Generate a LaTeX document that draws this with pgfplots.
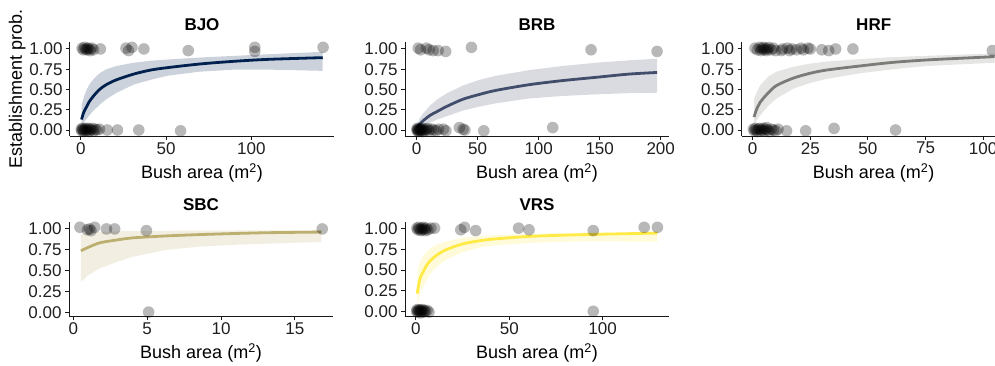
\documentclass[border=0pt]{standalone}
\usepackage{fontspec}
\setmainfont{Liberation Sans}
\usepackage{pgfplots}
\pgfplotsset{compat=1.18}
\definecolor{cBJO}{HTML}{00204D}
\definecolor{cBRB}{HTML}{414D6B}
\definecolor{cHRF}{HTML}{7C7B78}
\definecolor{cSBC}{HTML}{BCAF6F}
\definecolor{cVRS}{HTML}{FFEA46}
\pgfplotsset{
  panel/.style={
    scale only axis, width=264pt, height=94pt, anchor=south west,
    axis x line*=bottom, axis y line*=left,
    axis line style={-, black!90, line width=1pt},
    tick style={black!90, line width=1pt},
    tick align=outside, major tick length=4pt,
    ytick={0,0.25,0.5,0.75,1},
    yticklabel={\pgfmathprintnumber[fixed,fixed zerofill,precision=2]{\tick}},
    /pgf/number format/assume math mode=true,
    scaled x ticks=false,
    ticklabel style={font=\fontsize{17}{20}\selectfont, text=black!88},
    xticklabel style={inner sep=2pt},
    xlabel={Bush area (m\textsuperscript{2})},
    xlabel style={font=\fontsize{18}{21}\selectfont, at={(axis description cs:0.5,0)}, anchor=center, yshift=-37pt},
    title style={font=\bfseries\fontsize{17}{20}\selectfont, at={(axis description cs:0.5,1)}, anchor=south, yshift=2pt},
    clip=false,
  },
  pts/.style={only marks, mark=*, mark size=5.8pt, mark options={fill=black, fill opacity=0.28, draw opacity=0}},
  band/.style={fill=#1, fill opacity=0.2, draw=none},
  fit/.style={no marks, smooth, line width=2.8pt, color=#1},
}
\begin{document}
\begin{tikzpicture}
\path[use as bounding box] (0pt,0pt) rectangle (995pt,365pt);
% ---------------- BJO
\begin{axis}[panel, at={(70pt,229pt)}, title={BJO}, xmin=-6.3, xmax=148.4, ymin=-0.074, ymax=1.086, xtick={0,50,100},
  ylabel={Establishment prob.}, ylabel style={font=\fontsize{18}{21}\selectfont, at={(axis description cs:-0.2,0.5)}, anchor=center}]
\addplot[band=cBJO] coordinates {(0.5,0.30)(1,0.34)(2,0.42)(3.5,0.50)(5,0.56)(7.5,0.63)(11,0.70)(15,0.75)(21,0.79)(31,0.83)(41,0.855)(51,0.87)(70,0.895)(90,0.915)(110,0.935)(141.8,0.965)
 (141.8,0.73)(110,0.745)(90,0.745)(70,0.72)(51,0.67)(41,0.62)(31,0.56)(21,0.46)(15,0.38)(11,0.31)(7.5,0.24)(5,0.18)(3.5,0.14)(2,0.10)(1,0.07)(0.5,0.05)} -- cycle;
\addplot[fit=cBJO] coordinates {(0.5,0.13)(1,0.17)(2,0.23)(3.5,0.29)(5,0.35)(7.5,0.42)(11,0.50)(15,0.56)(21,0.62)(31,0.69)(41,0.74)(51,0.77)(70,0.815)(90,0.848)(110,0.872)(141.8,0.893)};
\addplot[pts] coordinates {(0.8,1.01)(1.5,0.99)(2.2,1.02)(3.0,1.00)(3.5,0.99)(4.2,1.01)(4.8,1.00)(5.5,0.98)(6.5,1.01)(7.5,0.99)(11.5,1.00)(26.5,1.01)(28,0.98)(30,1.02)(37,1.00)(63,0.98)(102,1.02)(102,0.97)(142,1.02)
 (0.3,0.01)(0.6,-0.01)(1,0.02)(1.3,0.00)(1.8,-0.02)(2.2,0.01)(2.8,0.02)(3.2,-0.01)(3.8,0.00)(4.3,0.02)(4.8,-0.02)(5.3,0.01)(6,0.00)(6.8,0.02)(7.5,-0.01)(8.5,0.01)(9.5,0.00)(11,0.01)(15.5,0.00)(21.5,0.00)(34,0.00)(58.5,-0.01)};
\end{axis}
% ---------------- BRB
\begin{axis}[panel, at={(405pt,229pt)}, title={BRB}, xmin=-9.55, xmax=206.8, ymin=-0.074, ymax=1.086, xtick={0,50,100,150,200}]
\addplot[band=cBRB] coordinates {(0.3,0.07)(2,0.13)(5,0.20)(10.9,0.30)(17,0.38)(24.5,0.45)(38,0.55)(51.7,0.62)(65.3,0.67)(92.5,0.74)(119.7,0.79)(146.9,0.83)(174,0.86)(197,0.88)
 (197,0.46)(174,0.455)(146.9,0.44)(119.7,0.42)(92.5,0.39)(65.3,0.33)(51.7,0.29)(38,0.24)(24.5,0.17)(17,0.13)(10.9,0.09)(5,0.05)(2,0.02)(0.3,0.01)} -- cycle;
\addplot[fit=cBRB] coordinates {(0.3,0.03)(2,0.06)(5,0.11)(10.9,0.18)(17,0.23)(24.5,0.29)(38,0.38)(51.7,0.44)(65.3,0.49)(92.5,0.56)(119.7,0.61)(146.9,0.65)(174,0.69)(197,0.71)};
\addplot[pts] coordinates {(1.3,1.01)(3.2,0.99)(8,1.01)(10.2,0.99)(13.5,0.98)(17.6,0.98)(23.8,0.97)(44.9,1.02)(142.9,0.99)(197,0.97)
 (0.2,0.00)(0.5,0.02)(0.8,-0.01)(1.2,0.01)(1.6,-0.02)(2,0.00)(2.5,0.02)(3,-0.01)(3.5,0.01)(4,0.00)(4.5,-0.02)(5,0.02)(6,0.00)(7,-0.01)(8,0.01)(9,0.02)(10,-0.01)(12,0.01)(14,0.00)(16,-0.01)(18,0.01)(22,0.01)(24,-0.01)(35,0.03)(38,0.01)(39.5,0.00)(55,-0.01)(111.5,0.03)};
\end{axis}
% ---------------- HRF
\begin{axis}[panel, at={(741.7pt,229pt)}, title={HRF}, xmin=-4.77, xmax=109.8, ymin=-0.074, ymax=1.086, xtick={0,25,50,75,100}]
\addplot[band=cHRF] coordinates {(0.6,0.38)(1.5,0.45)(3.2,0.55)(6.8,0.66)(10.4,0.72)(17.6,0.78)(24.9,0.82)(32.1,0.845)(46.5,0.875)(61,0.90)(75.4,0.915)(89.9,0.93)(105,0.945)
 (105,0.83)(89.9,0.81)(75.4,0.79)(61,0.75)(46.5,0.70)(32.1,0.63)(24.9,0.58)(17.6,0.51)(10.4,0.39)(6.8,0.30)(3.2,0.18)(1.5,0.11)(0.6,0.06)} -- cycle;
\addplot[fit=cHRF] coordinates {(0.6,0.16)(1.5,0.24)(3.2,0.34)(6.8,0.46)(10.4,0.55)(17.6,0.64)(24.9,0.70)(32.1,0.74)(46.5,0.79)(61,0.835)(75.4,0.864)(89.9,0.885)(105,0.905)};
\addplot[pts] coordinates {(1,1.01)(2,0.99)(3,1.02)(3.5,0.98)(4,1.00)(4.5,1.02)(5,0.99)(5.5,1.01)(6,0.98)(6.5,1.00)(7,1.02)(8,0.99)(9,1.01)(10,0.98)(12.5,0.98)(13,1.00)(15,1.01)(16,0.98)(17,1.00)(19,0.99)(21,1.01)(22,0.99)(24,1.01)(25,1.00)(30,0.99)(33,0.98)(36,1.00)(43.5,1.00)(104,0.98)
 (0.3,0.01)(0.7,-0.01)(1.1,0.02)(1.5,0.00)(2,-0.02)(2.5,0.01)(3,0.02)(3.5,-0.01)(4,0.00)(4.5,0.02)(5,-0.01)(5.5,0.01)(6,0.03)(6.5,0.00)(7,-0.02)(8,0.01)(9,0.00)(10,-0.01)(11,0.01)(14.7,-0.01)(23,-0.01)(35.3,0.02)(62,0.00)};
\end{axis}
% ---------------- SBC
\begin{axis}[panel, at={(69pt,48.7pt)}, title={SBC}, xmin=-0.29, xmax=17.58, ymin=-0.040, ymax=1.079, xtick={0,5,10,15}]
\addplot[band=cSBC] coordinates {(0.52,0.94)(1,0.955)(1.8,0.965)(3,0.972)(5,0.977)(8,0.98)(12,0.982)(16.8,0.985)
 (16.8,0.845)(13.1,0.825)(10.8,0.81)(8.6,0.79)(6.3,0.75)(4.06,0.67)(3,0.61)(1.8,0.53)(1,0.45)(0.52,0.37)} -- cycle;
\addplot[fit=cSBC] coordinates {(0.52,0.74)(1,0.78)(1.8,0.835)(3,0.87)(4.06,0.894)(6.3,0.917)(8.6,0.933)(10.8,0.945)(13.1,0.955)(16.8,0.963)};
\addplot[pts] coordinates {(0.45,1.02)(0.95,0.99)(1.1,1.00)(1.2,0.98)(1.45,1.02)(2.25,1.00)(2.8,1.00)(4.95,0.98)(16.85,1.00)(5.1,0.01)};
\end{axis}
% ---------------- VRS
\begin{axis}[panel, at={(405pt,48.7pt)}, title={VRS}, xmin=-5.87, xmax=135.6, ymin=-0.061, ymax=1.081, xtick={0,50,100}]
\addplot[band=cVRS] coordinates {(0.7,0.45)(1.5,0.55)(2.5,0.62)(3.9,0.67)(5.5,0.72)(7.5,0.76)(11,0.81)(16.4,0.85)(25.3,0.895)(35,0.915)(43.1,0.925)(60.9,0.94)(80,0.95)(96.5,0.955)(129.4,0.96)
 (129.4,0.845)(96.5,0.85)(80,0.845)(60.9,0.83)(43.1,0.80)(35,0.78)(25.3,0.72)(16.4,0.63)(11,0.54)(7.5,0.45)(5.5,0.37)(3.9,0.30)(2.5,0.23)(1.5,0.15)(0.7,0.08)} -- cycle;
\addplot[fit=cVRS] coordinates {(0.7,0.215)(1.5,0.33)(2.5,0.42)(3.9,0.48)(5.5,0.55)(7.5,0.61)(11,0.68)(16.4,0.75)(25.3,0.82)(35,0.86)(43.1,0.88)(60.9,0.91)(80,0.925)(96.5,0.935)(129.4,0.95)};
\addplot[pts] coordinates {(0.5,1.01)(1,0.99)(1.5,1.02)(2,1.00)(2.5,0.98)(3,1.01)(3.5,0.99)(4,1.02)(4.5,1.00)(5,0.98)(5.5,1.01)(6.5,0.99)(8,1.01)(10,1.01)(24,0.99)(26,1.02)(32,0.98)(55,1.01)(60.6,0.99)(95,0.98)(122.3,1.02)(129.4,1.02)
 (0.3,0.00)(0.6,0.02)(1,-0.01)(1.3,0.01)(1.6,0.00)(2,0.02)(2.3,-0.02)(2.7,0.01)(3,0.00)(3.5,0.02)(4,-0.01)(4.5,0.01)(5,0.00)(6,0.01)(7,-0.01)(95,0.00)};
\end{axis}
\end{tikzpicture}
\end{document}
